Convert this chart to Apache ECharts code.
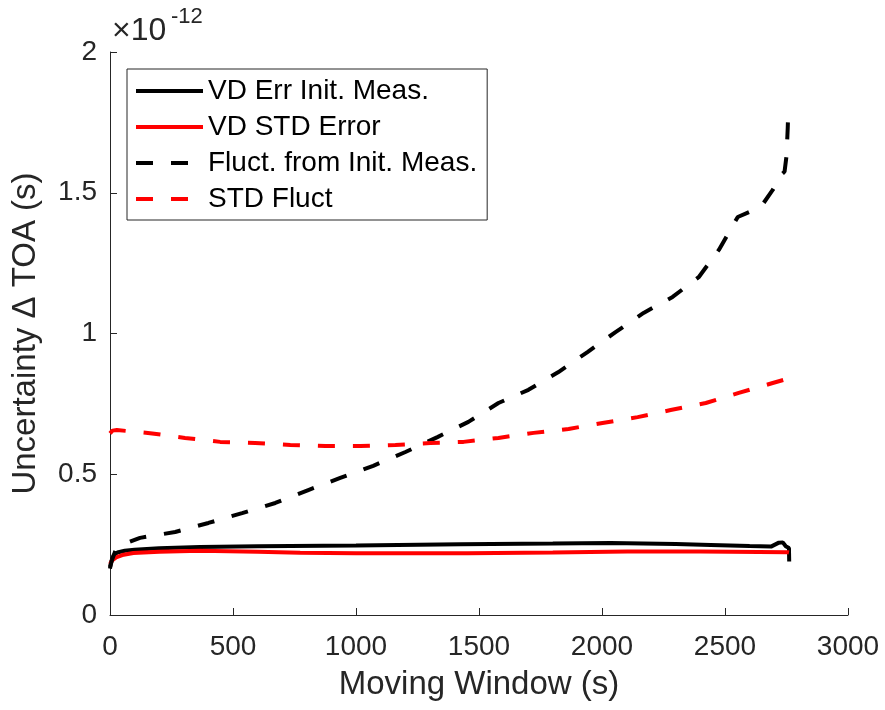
<!DOCTYPE html>
<html>
<head>
<meta charset="utf-8">
<script src="https://cdn.jsdelivr.net/npm/echarts@6/dist/echarts.min.js"></script>
<style>
html,body{margin:0;padding:0;background:#fff;}
#chart{width:885px;height:710px;}
</style>
</head>
<body>
<div id="chart"></div>
<script>
// Values in units of 1e-12 s
const seriesNames = ['VD Err Init. Meas.', 'VD STD Error', 'Fluct. from Init. Meas.', 'STD Fluct'];

const vdErrX = [0, 5, 15, 30, 60, 100, 200, 366, 600, 1000, 1425, 1800, 2035, 2300, 2442, 2600, 2687, 2719, 2735, 2747, 2760, 2761];
const vdErrY = [0.165, 0.19, 0.212, 0.222, 0.228, 0.232, 0.237, 0.242, 0.244, 0.247, 0.251, 0.254, 0.256, 0.252, 0.249, 0.245, 0.243, 0.257, 0.258, 0.244, 0.238, 0.19];

const vdStdX = [0, 10, 25, 50, 95, 200, 366, 600, 773, 1000, 1453, 1800, 2104, 2400, 2755, 2760];
const vdStdY = [0.18, 0.195, 0.205, 0.213, 0.22, 0.225, 0.228, 0.225, 0.221, 0.219, 0.219, 0.222, 0.226, 0.226, 0.223, 0.222];

const fluctX = [0, 10, 25, 50, 122, 265, 400, 537, 672, 806, 936, 1070, 1201, 1331, 1457, 1579, 1701, 1823, 1941, 2055, 2169, 2287, 2393, 2475, 2552, 2646, 2694, 2727, 2742, 2750, 2755, 2757];
const fluctY = [0.17, 0.2, 0.235, 0.25, 0.274, 0.295, 0.327, 0.362, 0.398, 0.444, 0.487, 0.53, 0.579, 0.632, 0.686, 0.753, 0.80, 0.863, 0.934, 1.005, 1.073, 1.13, 1.20, 1.297, 1.414, 1.45, 1.51, 1.563, 1.575, 1.63, 1.73, 1.787];

const stdFluctX = [0, 10, 28, 163, 305, 448, 590, 733, 875, 1018, 1160, 1302, 1437, 1579, 1722, 1864, 2002, 2145, 2279, 2422, 2556, 2694, 2750];
const stdFluctY = [0.645, 0.655, 0.657, 0.646, 0.629, 0.615, 0.611, 0.604, 0.600, 0.600, 0.604, 0.611, 0.615, 0.629, 0.647, 0.661, 0.682, 0.703, 0.728, 0.753, 0.789, 0.824, 0.838];

const xTicks = [0, 500, 1000, 1500, 2000, 2500, 3000];
const yTicks = [0, 0.5, 1, 1.5, 2];
const exponentBase = '×10';
const exponentPower = '-12';

function pairs(xs, ys) { return xs.map((x, i) => [x, ys[i]]); }

const FONT = '"Liberation Sans", Arial, Helvetica, sans-serif';
const AX = '#262626';

const chart = echarts.init(document.getElementById('chart'), null, {renderer: 'canvas'});
chart.setOption({
  backgroundColor: '#ffffff',
  animation: false,
  grid: {left: 110, right: 37, top: 52, bottom: 95, containLabel: false},
  xAxis: {
    type: 'value', min: xTicks[0], max: xTicks[xTicks.length - 1], interval: xTicks[1] - xTicks[0],
    name: 'Moving Window (s)', nameLocation: 'middle', nameGap: 53,
    nameTextStyle: {fontFamily: FONT, fontSize: 33, color: AX},
    axisLine: {show: true, lineStyle: {color: AX, width: 1}},
    axisTick: {show: true, inside: true, length: 7, lineStyle: {color: AX}},
    axisLabel: {fontFamily: FONT, fontSize: 28, color: AX, margin: 18, showMinLabel: true, showMaxLabel: true,
      formatter: v => String(v)},
    splitLine: {show: false}
  },
  yAxis: {
    type: 'value', min: yTicks[0], max: yTicks[yTicks.length - 1], interval: yTicks[1] - yTicks[0],
    name: 'Uncertainty Δ TOA (s)', nameLocation: 'middle', nameGap: 68,
    nameTextStyle: {fontFamily: FONT, fontSize: 33, color: AX},
    axisLine: {show: true, lineStyle: {color: AX, width: 1}},
    axisTick: {show: true, inside: true, length: 7, lineStyle: {color: AX}},
    axisLabel: {fontFamily: FONT, fontSize: 28, color: AX, margin: 13, showMinLabel: true, showMaxLabel: true,
      formatter: v => String(v)},
    splitLine: {show: false}
  },
  legend: {
    orient: 'vertical', left: 127, top: 69,
    itemWidth: 67, itemHeight: 14, itemGap: 8,
    padding: [8, 10, 7, 7],
    borderColor: AX, borderWidth: 1, backgroundColor: '#ffffff', borderRadius: 0,
    textStyle: {fontFamily: FONT, fontSize: 28, color: '#000'},
    itemStyle: {opacity: 0},
    lineStyle: {width: 4},
    data: seriesNames
  },
  graphic: [
    {type: 'text', left: 112, top: 15, style: {text: exponentBase, fontFamily: FONT, fontSize: 32, fill: AX}},
    {type: 'text', left: 171, top: 6, style: {text: exponentPower, fontFamily: FONT, fontSize: 22, fill: AX}}
  ],
  series: [
    {name: seriesNames[0], type: 'line', symbol: 'none', data: pairs(vdErrX, vdErrY),
     lineStyle: {color: '#000', width: 4}, itemStyle: {color: '#000'}},
    {name: seriesNames[1], type: 'line', symbol: 'none', data: pairs(vdStdX, vdStdY),
     lineStyle: {color: '#ff0000', width: 4}, itemStyle: {color: '#ff0000'}},
    {name: seriesNames[2], type: 'line', symbol: 'none', data: pairs(fluctX, fluctY),
     lineStyle: {color: '#000', width: 4, type: [17, 18]}, itemStyle: {color: '#000'}},
    {name: seriesNames[3], type: 'line', symbol: 'none', data: pairs(stdFluctX, stdFluctY),
     lineStyle: {color: '#ff0000', width: 4, type: [17, 18]}, itemStyle: {color: '#ff0000'}}
  ]
});
</script>
</body>
</html>
